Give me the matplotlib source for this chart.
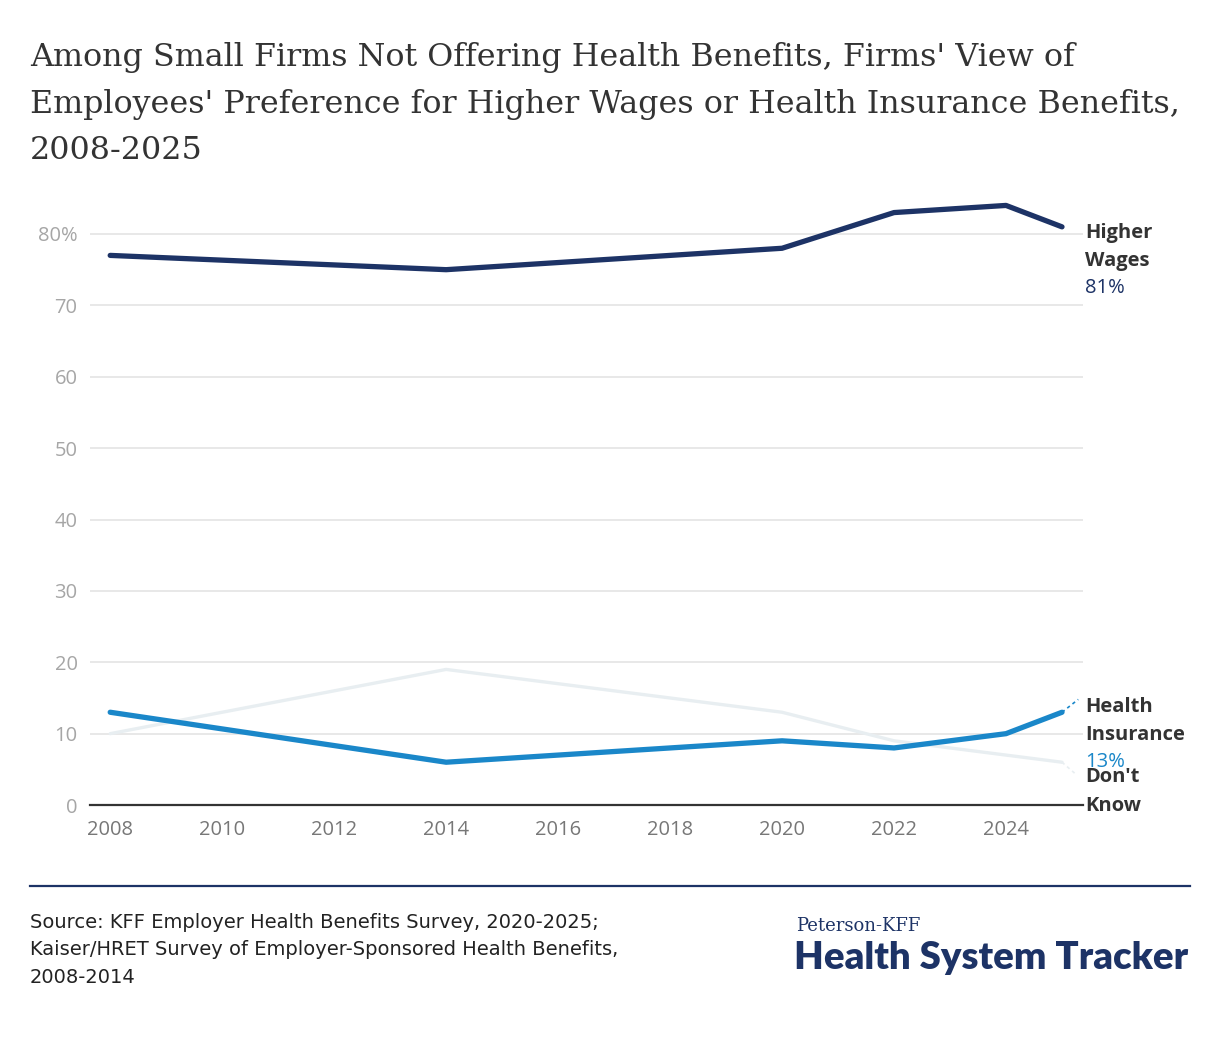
import matplotlib.pyplot as plt

plt.rcParams['font.family'] = ['Open Sans', 'DejaVu Sans']

# data
years = [2008, 2014, 2020, 2022, 2024, 2025]
higher_wages = [77, 75, 78, 83, 84, 81]
health_insurance = [13, 6, 9, 8, 10, 13]
dont_know = [10, 19, 13, 9, 7, 6]

x_ticks = [2008, 2010, 2012, 2014, 2016, 2018, 2020, 2022, 2024]
y_ticks = [0, 10, 20, 30, 40, 50, 60, 70, 80]
y_labels = ['0', '10', '20', '30', '40', '50', '60', '70', '80%']

title_lines = ["Among Small Firms Not Offering Health Benefits, Firms' View of",
               "Employees' Preference for Higher Wages or Health Insurance Benefits,",
               "2008-2025"]
source_lines = ["Source: KFF Employer Health Benefits Survey, 2020-2025;",
                "Kaiser/HRET Survey of Employer-Sponsored Health Benefits,",
                "2008-2014"]

navy = '#1d3366'
blue = '#1a87c9'
light = '#e8eef1'
W, H = 1220, 1042

fig = plt.figure(figsize=(12.2, 10.42), dpi=100)
ax = fig.add_axes([0.0738, 0.2274, 0.8139, 0.596])

ax.plot(years, dont_know, color=light, lw=2.4, solid_capstyle='round', zorder=2)
ax.plot(years, health_insurance, color=blue, lw=3.8, solid_capstyle='round', zorder=3)
ax.plot(years, higher_wages, color=navy, lw=3.8, solid_capstyle='round', zorder=3)

ax.set_xlim(2007.64, 2025.375)
ax.set_ylim(0, 87)
ax.set_xticks(x_ticks)
ax.set_xticklabels([str(y) for y in x_ticks])
ax.set_yticks(y_ticks)
ax.set_yticklabels(y_labels)
ax.grid(axis='y', color='#e6e6e6', lw=1.3, zorder=0)
for s in ['top', 'right', 'left']:
    ax.spines[s].set_visible(False)
ax.spines['bottom'].set_color('#333333')
ax.spines['bottom'].set_linewidth(1.6)
ax.tick_params(axis='both', length=0)
ax.tick_params(axis='y', labelsize=14.5, labelcolor='#a6a6a6', pad=9)
ax.tick_params(axis='x', labelsize=14.5, labelcolor='#777777', pad=11)

# end labels, one line each, placed by baseline
lx = 2025.41
end_labels = [('Higher', 79.4, 'bold', '#333333'),
              ('Wages', 75.5, 'bold', '#333333'),
              ('81%', 71.7, 'normal', navy),
              ('Health', 13.0, 'bold', '#333333'),
              ('Insurance', 9.1, 'bold', '#333333'),
              ('13%', 5.3, 'normal', blue),
              ("Don't", 3.2, 'bold', '#333333'),
              ('Know', -0.85, 'bold', '#333333')]
for txt, yv, wt, c in end_labels:
    ax.text(lx, yv, txt, fontsize=14.5, fontweight=wt, color=c,
            va='baseline', ha='left', clip_on=False, zorder=5)
ax.plot([2025, 2025.29], [13, 14.8], color=blue, lw=1.2, ls=(0, (2, 2)), clip_on=False)
ax.plot([2025, 2025.25], [6, 4.3], color=light, lw=1.2, ls=(0, (2, 2)), clip_on=False)

for line, base in zip(title_lines, [66, 113, 159]):
    fig.text(30 / W, 1 - base / H, line, fontsize=22.9, family='DejaVu Serif',
             color='#333333', va='baseline', ha='left')

fig.add_artist(plt.Line2D([30 / W, 1190 / W], [1 - 886 / H, 1 - 886 / H], color=navy, lw=1.6))

for line, base in zip(source_lines, [928, 955, 983]):
    fig.text(30 / W, 1 - base / H, line, fontsize=14, family='DejaVu Sans',
             color='#222222', va='baseline', ha='left')

fig.text(796 / W, 1 - 931 / H, 'Peterson-KFF', fontsize=13, family='DejaVu Serif',
         color=navy, va='baseline', ha='left')
fig.text(794 / W, 1 - 969 / H, 'Health System Tracker', fontsize=27.5, fontweight='heavy',
         family='Lato', color=navy, va='baseline', ha='left')

fig.savefig('out.png', dpi=100)
